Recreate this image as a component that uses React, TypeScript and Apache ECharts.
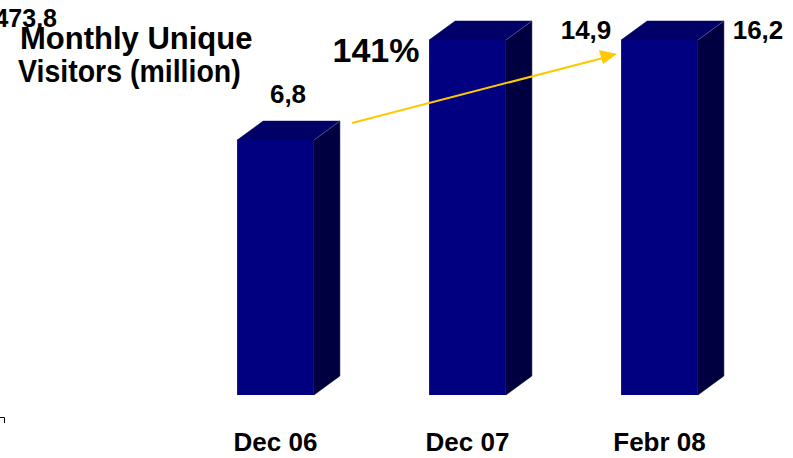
import React, { useEffect, useRef } from "react";
import * as echarts from "echarts";

const categories = ["Dec 06", "Dec 07", "Febr 08"];
const visitors = [6.8, 14.9, 16.2];
const valueLabels = ["6,8", "14,9", "16,2"];
const strayLabel = "473,8";
const growthLabel = "141%";
const titleLines = ["Monthly Unique", "Visitors (million)"];

const Y_MAX = 9.47;
const DEPTH_X = 26;
const DEPTH_Y = -19;
// label offsets relative to front top-center of each bar (styling)
const labelOffsets: [number, number][] = [
  [12.5, -46],
  [118.5, -10],
  [98.5, -10],
];

export default function App() {
  const ref = useRef<HTMLDivElement>(null);
  useEffect(() => {
    const chart = echarts.init(ref.current!, null, { renderer: "svg" });
    const font = "Liberation Sans, Arial, sans-serif";
    const arrowColor = "#FFC800";
    chart.setOption({
      animation: false,
      grid: { left: 179.5, right: 37.5, top: 40, bottom: 63, containLabel: false },
      xAxis: {
        type: "category",
        data: categories,
        axisLine: { show: false },
        axisTick: { show: false },
        axisLabel: {
          color: "#000",
          fontFamily: font,
          fontWeight: "bold",
          fontSize: 26,
          margin: 34,
        },
      },
      yAxis: {
        type: "value",
        min: 0,
        max: Y_MAX,
        show: false,
        splitLine: { show: false },
      },
      series: [
        {
          type: "custom",
          clip: false,
          z: 1,
          data: visitors.map((v, i) => [i, v]),
          renderItem: (params: any, api: any) => {
            const idx = api.value(0);
            const v = Math.min(api.value(1), Y_MAX);
            const top = api.coord([idx, v]);
            const base = api.coord([idx, 0]);
            const band = api.size([1, 0])[0];
            const w = band * 0.4;
            const x0 = top[0] - w / 2;
            const x1 = top[0] + w / 2;
            const yT = top[1];
            const yB = base[1];
            const off = labelOffsets[params.dataIndex] || [0, -30];
            return {
              type: "group",
              children: [
                {
                  type: "polygon",
                  shape: {
                    points: [
                      [x1, yT],
                      [x1 + DEPTH_X, yT + DEPTH_Y],
                      [x1 + DEPTH_X, yB + DEPTH_Y],
                      [x1, yB],
                    ],
                  },
                  style: { fill: "#000040", stroke: "#000040", lineWidth: 0.5 },
                },
                {
                  type: "polygon",
                  shape: {
                    points: [
                      [x0, yT],
                      [x0 + DEPTH_X, yT + DEPTH_Y],
                      [x1 + DEPTH_X, yT + DEPTH_Y],
                      [x1, yT],
                    ],
                  },
                  style: { fill: "#000066", stroke: "#000066", lineWidth: 0.5 },
                },
                {
                  type: "line",
                  shape: { x1: x1, y1: yT, x2: x1 + DEPTH_X, y2: yT + DEPTH_Y },
                  style: { stroke: "#5a5a9a", lineWidth: 0.8 },
                },
                {
                  type: "rect",
                  shape: { x: x0, y: yT, width: w, height: yB - yT },
                  style: { fill: "#000080" },
                },
                {
                  type: "text",
                  x: top[0] + off[0],
                  y: yT + off[1],
                  style: {
                    text: valueLabels[params.dataIndex],
                    fill: "#000",
                    font: "bold 26px " + font,
                    align: "center",
                    verticalAlign: "middle",
                  },
                },
              ],
            };
          },
        },
        {
          type: "custom",
          clip: false,
          z: 20,
          silent: true,
          data: [[0]],
          renderItem: () => ({
            type: "group",
            children: [
              {
                type: "line",
                shape: { x1: 352, y1: 123, x2: 603, y2: 58 },
                style: { stroke: arrowColor, lineWidth: 2 },
              },
              {
                type: "polygon",
                shape: { points: [[617, 54], [599, 50], [603, 64]] },
                style: { fill: arrowColor },
              },
            ],
          }),
        },
      ],
      graphic: [
        {
          type: "text",
          x: 57,
          y: 18,
          z: 10,
          style: {
            text: strayLabel,
            fill: "#000",
            font: "bold 25px " + font,
            align: "right",
            verticalAlign: "middle",
          },
        },
        {
          type: "text",
          x: 20,
          y: 38,
          z: 10,
          style: {
            text: titleLines[0],
            fill: "#000",
            font: "bold 31px " + font,
            align: "left",
            verticalAlign: "middle",
          },
        },
        {
          type: "text",
          x: 18,
          y: 71,
          z: 10,
          scaleX: 0.92,
          style: {
            text: titleLines[1],
            fill: "#000",
            font: "bold 31px " + font,
            align: "left",
            verticalAlign: "middle",
          },
        },
        {
          type: "text",
          x: 376,
          y: 50,
          z: 10,
          style: {
            text: growthLabel,
            fill: "#000",
            font: "bold 34px " + font,
            align: "center",
            verticalAlign: "middle",
          },
        },
        {
          type: "polyline",
          z: 10,
          shape: { points: [[0, 417.5], [4.5, 417.5], [4.5, 423]] },
          style: { stroke: "#000", lineWidth: 1, fill: "none" },
        },
      ],
    });
    return () => chart.dispose();
  }, []);
  return (
    <div
      ref={ref}
      style={{ position: "absolute", left: 0, top: 0, width: 793, height: 458, background: "#fff" }}
    />
  );
}
